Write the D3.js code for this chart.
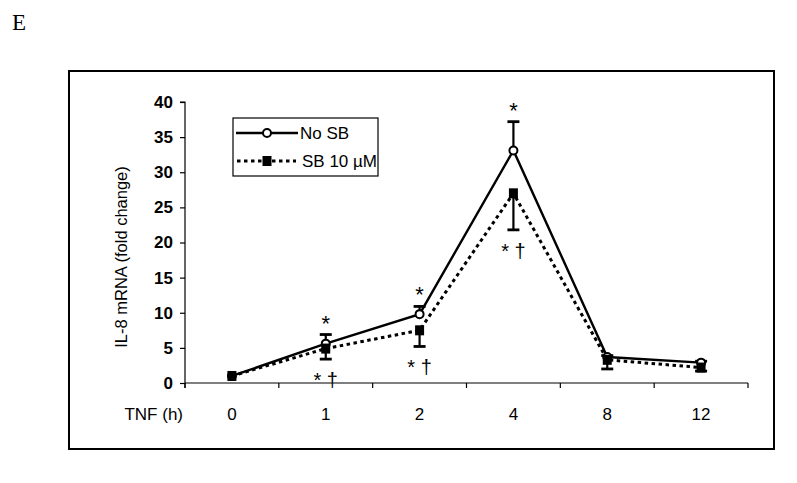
<!DOCTYPE html>
<html><head><meta charset="utf-8">
<script src="https://cdn.jsdelivr.net/npm/d3@7"></script>
<style>body{margin:0;background:#fff}svg{display:block}</style>
</head><body>
<svg id="c" width="797" height="483"></svg>
<script>
const categories = ["0","1","2","4","8","12"];
const noSB      = [1.0, 5.6, 9.8, 33.1, 3.7, 2.9];
const noSBErrHi = [1.0, 6.9, 10.9, 37.2, 3.9, 3.1];
const sb        = [1.0, 4.9, 7.5, 27.0, 3.3, 2.2];
const sbErrLo   = [1.0, 3.4, 5.2, 21.8, 2.0, 1.7];
const starAbove = ["", "*", "*", "*", "", ""];
const starBelow = ["", "* †", "* †", "* †", "", ""];
const yTicks = [0,5,10,15,20,25,30,35,40];
const seriesNames = ["No SB", "SB 10 µM"];

const svg = d3.select("#c");
const L = 185, R = 748, T = 102, B = 383;
const y = d3.scaleLinear().domain([0,40]).range([B,T]);
const xb = d3.scaleBand().domain(categories).range([L,R]).paddingInner(0).paddingOuter(0);
const xp = d3.scalePoint().domain(categories).range([L,R]).padding(0.5);
const font = "'Liberation Sans', Arial, sans-serif";

// panel letter
svg.append("text").attr("x",12).attr("y",30).attr("font-family","'Liberation Serif','Times New Roman',serif")
  .attr("font-size",23).text("E");

// frame
svg.append("rect").attr("x",69).attr("y",71).attr("width",705).attr("height",378)
  .attr("fill","none").attr("stroke","#000").attr("stroke-width",2);

// y axis
const yAxis = d3.axisLeft(y).tickValues(yTicks).tickSize(5).tickPadding(7);
const gy = svg.append("g").attr("transform",`translate(${L},0)`).call(yAxis);
gy.select(".domain").attr("d",`M-5,${T}H0V${B+5}`).attr("stroke","#000").attr("stroke-width",1.2);
gy.selectAll(".tick line").attr("stroke","#000").attr("stroke-width",1.2);
gy.selectAll(".tick text").attr("font-family",font).attr("font-size",17).attr("font-weight","bold").attr("fill","#000");

// x axis line and boundary ticks
svg.append("line").attr("x1",L).attr("x2",R).attr("y1",B).attr("y2",B).attr("stroke","#000").attr("stroke-width",1.2);
const bounds = categories.map(c=>xb(c)).concat([R]);
svg.selectAll(".xt").data(bounds).enter().append("line")
  .attr("x1",d=>d).attr("x2",d=>d).attr("y1",B).attr("y2",B+5).attr("stroke","#000").attr("stroke-width",1.2);
svg.selectAll(".xl").data(categories).enter().append("text")
  .attr("x",d=>xp(d)).attr("y",420).attr("text-anchor","middle")
  .attr("font-family",font).attr("font-size",17).text(d=>d);
svg.append("text").attr("x",183).attr("y",420).attr("text-anchor","end")
  .attr("font-family",font).attr("font-size",17).text("TNF (h)");

// y title
svg.append("text").attr("transform",`translate(127,257) rotate(-90)`).attr("text-anchor","middle")
  .attr("font-family",font).attr("font-size",16.5).text("IL-8 mRNA (fold change)");

const line = d3.line().x((d,i)=>xp(categories[i])).y(d=>y(d));

// error bars
function errBars(vals, ends){
  const g = svg.append("g").attr("stroke","#000").attr("stroke-width",2.2);
  vals.forEach((v,i)=>{
    const cx = xp(categories[i]);
    if (Math.abs(ends[i]-v) < 0.01) return;
    g.append("line").attr("x1",cx).attr("x2",cx).attr("y1",y(v)).attr("y2",y(ends[i]));
    g.append("line").attr("x1",cx-6).attr("x2",cx+6).attr("y1",y(ends[i])).attr("y2",y(ends[i])).attr("stroke-width",2.8);
  });
}
errBars(noSB, noSBErrHi);
errBars(sb, sbErrLo);

// solid line (No SB)
svg.append("path").datum(noSB).attr("d",line).attr("fill","none").attr("stroke","#000").attr("stroke-width",2.4);
// dotted line (SB)
svg.append("path").datum(sb).attr("d",line).attr("fill","none").attr("stroke","#000").attr("stroke-width",3)
  .attr("stroke-dasharray","3.5,3.5");

// markers
svg.selectAll(".circ").data(noSB).enter().append("circle")
  .attr("cx",(d,i)=>xp(categories[i])).attr("cy",d=>y(d)).attr("r",4)
  .attr("fill","#fff").attr("stroke","#000").attr("stroke-width",2);
svg.selectAll(".sq").data(sb).enter().append("rect")
  .attr("x",(d,i)=>xp(categories[i])-4.5).attr("y",d=>y(d)-5).attr("width",9).attr("height",10).attr("fill","#000");

// significance marks
svg.selectAll(".sa").data(starAbove).enter().append("text")
  .attr("x",(d,i)=>xp(categories[i])).attr("y",(d,i)=>y(noSBErrHi[i])-4).attr("text-anchor","middle")
  .attr("font-family",font).attr("font-size",22).text(d=>d);
svg.selectAll(".sbm").data(starBelow).enter().append("text")
  .attr("x",(d,i)=>xp(categories[i])).attr("y",(d,i)=>y(sbErrLo[i])+28).attr("text-anchor","middle")
  .attr("font-family",font).attr("font-size",20).text(d=>d);

// legend
const lg = svg.append("g");
lg.append("rect").attr("x",233).attr("y",118).attr("width",145).attr("height",58)
  .attr("fill","#fff").attr("stroke","#000").attr("stroke-width",1.2);
lg.append("line").attr("x1",236).attr("x2",298).attr("y1",133).attr("y2",133).attr("stroke","#000").attr("stroke-width",2.4);
lg.append("circle").attr("cx",267).attr("cy",133).attr("r",4).attr("fill","#fff").attr("stroke","#000").attr("stroke-width",2);
lg.append("line").attr("x1",237).attr("x2",296).attr("y1",161).attr("y2",161).attr("stroke","#000").attr("stroke-width",3).attr("stroke-dasharray","3.5,3.5");
lg.append("rect").attr("x",262.5).attr("y",156).attr("width",9).attr("height",10).attr("fill","#000");
lg.append("text").attr("x",300).attr("y",139).attr("font-family",font).attr("font-size",17).text(seriesNames[0]);
lg.append("text").attr("x",302).attr("y",167).attr("font-family",font).attr("font-size",17).text(seriesNames[1]);
</script>
</body></html>
